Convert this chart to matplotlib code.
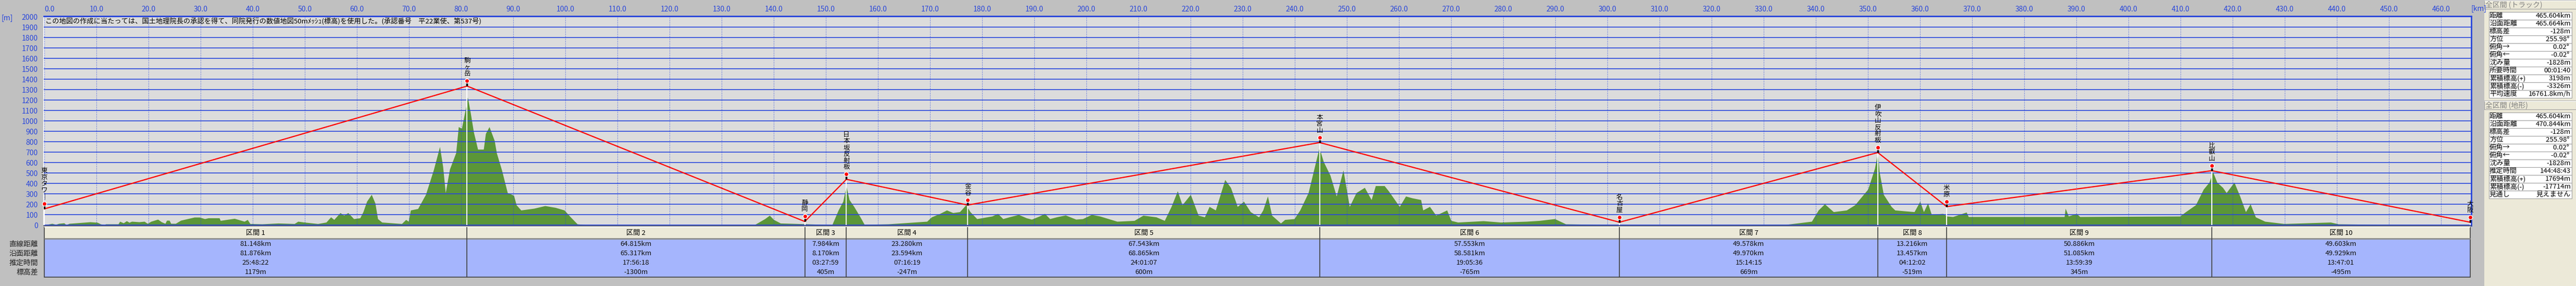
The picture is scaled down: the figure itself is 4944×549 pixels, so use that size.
import numpy as np
import matplotlib; matplotlib.use("Agg")
import matplotlib.pyplot as plt
from matplotlib.patches import Rectangle

plt.rcParams["font.family"] = ["Noto Sans CJK JP", "DejaVu Sans"]

W, H, DPI = 4944, 549, 100
BG = "#c0c0c0"; PLOT_BG = "#dcdcdc"; BLUE = "#2846dc"; GREEN = "#5b9638"
HEAD_BG = "#ece9d8"; BODY_BG = "#a5b5fd"; PANEL_BG = "#ece9d8"

BANNER = ("この地図の作成に当たっては、国土地理院長の承認を得て、同院発行の数値地図50mﾒｯｼｭ(標高)"
          "を使用した。(承認番号　平22業使、第537号)")

# waypoints and sections
POINT_NAMES = ["東京タワー", "駒ヶ岳", "静岡", "日本坂反射板", "金谷", "本宮山",
               "名古屋", "伊吹山反射板", "米原", "比叡山", "大阪"]
START_ELEV = 155
SEG_DIST = [81.148, 64.815, 7.984, 23.280, 67.543, 57.553, 49.578, 13.216, 50.886, 49.603]
SEG_SURF = [81.876, 65.317, 8.170, 23.594, 68.865, 58.581, 49.970, 13.457, 51.085, 49.929]
SEG_TIME = ["25:48:22", "17:56:18", "03:27:59", "07:16:19", "24:01:07",
            "19:05:36", "15:14:15", "04:12:02", "13:59:39", "13:47:01"]
SEG_DELEV = [1179, -1300, 405, -247, 600, -765, 669, -519, 345, -495]
ROW_NAMES = ["直線距離", "沿面距離", "推定時間", "標高差"]

# terrain profile (km, m)
TERRAIN_KM = [0, 1.5, 2.2, 2.8, 3.8, 4.2, 4.8, 7.5, 8.8, 10.2, 10.8, 11.5, 11.8, 14.2, 14.5, 15.2,
              15.8, 16.3, 16.8, 18.2, 19.2, 19.8, 20.5, 21.8, 22.5, 23.2, 23.5, 24.0, 24.3, 25.2,
              26.2, 27.5, 28.8, 29.8, 30.8,
              31.5, 33.6, 33.8, 36.5, 38.4, 39.0, 39.5, 41.8, 44.9, 48.0, 48.7, 49.9, 52.5, 54.1,
              55.0, 55.6, 56.8, 57.5, 58.3, 59.4, 60.6, 61.2, 61.9, 62.8, 63.5, 64.0, 64.8, 68.6,
              69.4, 69.9, 70.3, 71.7, 73.2, 74.7, 75.9, 76.5, 77.0, 77.8, 79.0, 79.5, 80.1, 80.9,
              81.25, 81.8, 82.4, 83.2, 84.3, 84.7, 85.4, 86.4, 86.8, 87.8, 88.9, 90.1, 90.6,
              91.5, 94.0, 96.1, 98.1, 99.8, 101.0, 102.3, 103.9, 136.3, 138.3, 139.2, 140.0,
              141.3, 144.6, 149.5, 151.2, 152.4, 153.3, 153.9, 154.5, 155.4, 156.6, 157.4, 162.0,
              169.4, 170.3, 171.9, 173.2, 174.4, 175.7, 176.9, 177.7, 179.0, 181.9, 183.0, 184.0,
              185.2, 187.0, 188.5, 189.5, 191.0, 192.0, 193.0, 194.3, 196.0, 198.0, 199.3, 201.0,
              202.6, 205.9, 209.2, 210.9, 213.4, 215.0, 216.3, 217.5, 218.4, 220.0,
              221.5, 222.7, 223.6, 224.8, 226.6, 227.7, 229.0, 230.2, 231.5, 233.1, 233.9, 234.8,
              235.6, 237.3, 238.1, 239.9, 241.0, 242.6, 243.9, 244.7, 245.5, 246.8, 248.0, 249.3,
              250.5, 251.8, 253.4, 254.7, 255.5, 257.2, 258.0, 260.1, 261.3, 262.5, 264.2, 264.6,
              265.9, 267.1, 269.2, 270.0, 271.3, 276.2, 279.5, 284.5, 287.0, 289.9, 292.0, 297.8,
              304.4, 334.3, 339.2, 340.5, 341.7, 343.4, 345.9, 347.5, 350.0, 351.3,
              351.9, 352.2, 353.0, 354.5, 355.2, 357.0, 358.9, 360.0, 360.7, 361.5, 362.2, 364.4,
              365.2, 366.3, 368.9, 369.3, 387.7, 387.9, 388.5, 390.0, 390.7, 409.9, 411.0, 412.9,
              414.4, 415.5, 416.2, 417.0, 418.1, 418.8, 420.3, 421.4, 422.5, 423.4, 424.4, 426.2,
              429.9, 438.8, 440.3, 447.7, 465.6]
TERRAIN_M = [0, 15, 5, 15, 20, 2, 15, 25, 30, 25, 10, 2, 10, 10, 35, 20,
             40, 25, 35, 30, 35, 15, 35, 55, 30, 15, 45, 45, 15, 15,
             45, 60, 75, 75, 60,
             68, 68, 43, 63, 35, 52, 13, 10, 18, 13, 35, 27, 13, 27,
             77, 52, 118, 93, 118, 60, 68, 127, 227, 293, 210, 60, 27, 13,
             52, 35, 143, 157, 293, 527, 752, 560, 310, 535, 693, 943, 927, 1127,
             1227, 1077, 893, 727, 727, 877, 943, 810, 693, 527, 310, 285, 193,
             143, 160, 185, 168, 143, 77, 10, 2, 2, 60, 93, 52,
             18, 13, 5, 2, 143, 227, 377, 243, 177, 77, 5, 10,
             35, 77, 110, 143, 118, 127, 193, 127, 60, 85, 110, 60,
             77, 100, 68, 55, 85, 110, 60, 77, 95, 55, 60, 100,
             85, 35, 43, 93, 77, 43, 177, 327, 193, 293,
             93, 77, 177, 143, 435, 360, 177, 227, 127, 77, 143, 277,
             93, 18, 52, 60, 143, 310, 577, 743, 610, 477, 277, 527,
             177, 310, 360, 243, 377, 377, 327, 177, 277, 260, 243, 143,
             177, 93, 143, 43, 27, 40, 27, 35, 43, 60, 10, 5,
             0, 5, 35, 143, 202, 127, 143, 193, 343, 543,
             700, 510, 293, 177, 143, 135, 127, 227, 127, 210, 102, 110,
             85, 80, 123, 80, 80, 160, 85, 110, 80, 85, 127, 193,
             343, 410, 510, 410, 360, 310, 410, 277, 127, 202, 77, 35,
             13, 27, 10, 5, 2]

TRACK_PANEL = [("距離", "465.604km"), ("沿面距離", "465.664km"), ("標高差", "-128m"),
               ("方位", "255.98° "), ("俯角→", "0.02° "), ("俯角←", "-0.02° "),
               ("沈み量", "-1828m"), ("所要時間", "00:01:40"), ("累積標高(+)", "3198m"),
               ("累積標高(-)", "-3326m"), ("平均速度", "16761.8km/h")]
TERRAIN_PANEL = [("距離", "465.604km"), ("沿面距離", "470.844km"), ("標高差", "-128m"),
                 ("方位", "255.98° "), ("俯角→", "0.02° "), ("俯角←", "-0.02° "),
                 ("沈み量", "-1828m"), ("推定時間", "144:48:43"), ("累積標高(+)", "17694m"),
                 ("累積標高(-)", "-17714m"), ("見通し", "見えません")]


def px_axes(fig, l, t, r, b):
    return fig.add_axes([l / W, 1 - b / H, (r - l) / W, (b - t) / H])

def fig_text(fig, x, y, s, **kw):
    fig.text(x / W, 1 - y / H, s, **kw)

def draw_profile(ax, wp_km, wp_el):
    ax.set_facecolor(PLOT_BG)
    ax.set_xlim(-0.1, 465.8); ax.set_ylim(-5, 2005)
    yt = list(range(0, 2001, 100)); xt = list(range(0, 461, 10))
    ax.set_yticks(yt); ax.set_xticks(xt)
    ax.xaxis.tick_top()
    ax.set_xticklabels([f"{v:.1f}" for v in xt])
    ax.tick_params(axis="both", length=0, colors=BLUE, labelsize=10)
    ax.tick_params(axis="y", pad=8); ax.tick_params(axis="x", pad=4)
    ax.xaxis.get_major_ticks()[0].label2.set_horizontalalignment("left")
    for y in yt: ax.axhline(y, color=BLUE, lw=1.2, zorder=3)
    for x in xt: ax.axvline(x, color=BLUE, lw=0.8, ls=(0, (1, 2)), zorder=3)
    ax.fill_between(TERRAIN_KM, 0, TERRAIN_M, color=GREEN, lw=0, zorder=2)
    ax.vlines(wp_km, 0, wp_el, colors="white", lw=1.5, zorder=4)
    ax.plot(wp_km, wp_el, color="#ff0000", lw=1.6, zorder=5)
    ax.vlines(wp_km, wp_el, wp_el + 45, colors="black", lw=2.5, zorder=6)
    ax.plot(wp_km, wp_el + 50, ls="none", marker="o", ms=6, mfc="#ff0000", mec="white",
            mew=1, zorder=7, clip_on=False)
    for name, x, e in zip(POINT_NAMES, wp_km, wp_el):
        lab = "\n".join(name.replace("ー", "｜"))
        ax.annotate(lab, (x, e + 50), xytext=(0, 5), textcoords="offset points",
                    ha="center", va="bottom", fontsize=9, linespacing=0.95,
                    zorder=8, annotation_clip=False)
    ax.text(0.2, 1952, BANNER, fontsize=9.5, va="center", ha="left", zorder=8)
    for s in ("top", "right"): ax.spines[s].set_color(BLUE); ax.spines[s].set_linewidth(2)
    ax.spines["left"].set_color("white"); ax.spines["left"].set_linewidth(1.5)
    ax.spines["bottom"].set_color("#404040"); ax.spines["bottom"].set_linewidth(1.2)

def draw_table(fig, wp_km):
    at = px_axes(fig, 84, 435, 4743, 533)
    at.set_xlim(-0.1, 465.8); at.set_ylim(533, 435); at.axis("off")
    x0, x1 = wp_km[0], wp_km[-1]
    at.add_patch(Rectangle((x0, 436), x1 - x0, 23, fc=HEAD_BG, ec="none"))
    at.add_patch(Rectangle((x0, 460), x1 - x0, 72, fc=BODY_BG, ec="none"))
    at.hlines(436.5, x0, x1, colors="white", lw=1.2)
    at.hlines(458.5, x0, x1, colors="#8c8c8c", lw=2)
    at.add_patch(Rectangle((x0, 435.5), x1 - x0, 96.5, fc="none", ec="#404040", lw=1.2))
    at.vlines(wp_km[1:-1], 436, 532, colors="#404040", lw=1.2)
    mids = (np.array(wp_km[:-1]) + np.array(wp_km[1:])) / 2
    for i, m in enumerate(mids):
        at.text(m, 448, f"区間 {i + 1}", ha="center", va="center", fontsize=9.5)
        vals = [f"{SEG_DIST[i]:.3f}km", f"{SEG_SURF[i]:.3f}km", SEG_TIME[i], f"{SEG_DELEV[i]}m"]
        for y, v in zip((469, 487, 505, 523), vals):
            at.text(m, y, v, ha="center", va="center", fontsize=9.5, color="#101010")
    for y, r in zip((469, 487, 505, 523), ROW_NAMES):
        fig_text(fig, 73, y, r, ha="right", va="center", fontsize=10, color="#202020")

def draw_panel(ap, top, title, rows):
    ap.add_patch(Rectangle((4768, top), 176, 17, fc=HEAD_BG, ec="#a0a0a0", lw=0.8))
    ap.hlines(top + 0.8, 4768, 4944, colors="white", lw=1)
    ap.text(4770, top + 9, title, ha="left", va="center", fontsize=10, color="#808080")
    y = top + 23
    for lab, val in rows:
        ap.add_patch(Rectangle((4777, y), 159, 15, fc="white", ec="#a0a0a0", lw=0.8))
        ap.text(4778, y + 7.5, lab, ha="left", va="center", fontsize=9.5, color="black")
        ap.text(4934, y + 7.5, val, ha="right", va="center", fontsize=9.5, color="black")
        y += 15

def main():
    wp_km = np.concatenate([[0], np.cumsum(SEG_DIST)])
    wp_el = START_ELEV + np.concatenate([[0], np.cumsum(SEG_DELEV)])
    fig = plt.figure(figsize=(W / DPI, H / DPI), dpi=DPI, facecolor=BG)
    ax = px_axes(fig, 84, 31, 4743, 433)
    draw_profile(ax, wp_km, wp_el)
    draw_table(fig, wp_km)
    fig_text(fig, 2, 35, "[m]", ha="left", va="center", fontsize=10, color=BLUE)
    fig_text(fig, 4743, 17, "[km]", ha="left", va="center", fontsize=10, color=BLUE)
    ap = px_axes(fig, 4768, 0, 4944, H)
    ap.set_xlim(4768, 4944); ap.set_ylim(H, 0); ap.axis("off")
    ap.add_patch(Rectangle((4768, 0), 176, H, fc=PANEL_BG, ec="none"))
    draw_panel(ap, 0, "全区間 (トラック)", TRACK_PANEL)
    draw_panel(ap, 193, "全区間 (地形)", TERRAIN_PANEL)
    fig.savefig("out.png", dpi=DPI, facecolor=BG)

if __name__ == "__main__":
    main()
